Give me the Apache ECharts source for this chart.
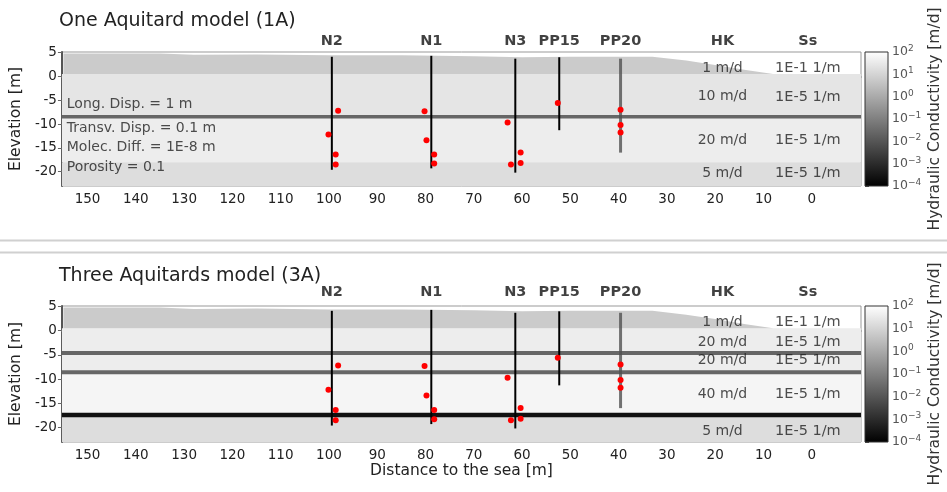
<!DOCTYPE html>
<html>
<head>
<meta charset="utf-8">
<script src="https://cdn.jsdelivr.net/npm/echarts@6/dist/echarts.min.js"></script>
<style>
  html, body { margin: 0; padding: 0; background: #fff; }
  #chart { width: 947px; height: 492px; }
</style>
</head>
<body>
<div id="chart"></div>
<script>
/* ---- data ---- */
var xTicks  = [150, 140, 130, 120, 110, 100, 90, 80, 70, 60, 50, 40, 30, 20, 10, 0];
var zTicks  = [5, 0, -5, -10, -15, -20];
var cbTicks = [2, 1, 0, -1, -2, -3, -4];          // log10(K) on the colour bar

var wellNames  = ["N2", "N1", "N3", "PP15", "PP20"];
var wellX      = [99.4, 78.8, 61.4, 52.3, 39.6];
var wellTop    = [4.1, 4.3, 3.7, 4.0, 3.7];
var wellBottom = [-19.6, -19.3, -20.2, -11.3, -16.0];

var obsX = [98.1, 100.1, 98.6, 98.6, 80.2, 79.8, 78.2, 78.2, 63.0, 60.3, 62.3, 60.3, 52.6, 39.6, 39.6, 39.6];
var obsZ = [-7.2, -12.2, -16.4, -18.5, -7.3, -13.4, -16.4, -18.3, -9.7, -16.0, -18.5, -18.2, -5.6, -7.0, -10.2, -11.8];

// ground surface of the top (1 m/d) unit
var surfX = [155, 135, 128, 115, 100, 85, 70, 60, 50, 40, 33, 26, 20, 14, 8];
var surfZ = [4.8, 4.8, 4.5, 4.6, 4.4, 4.4, 4.2, 4.0, 4.1, 4.1, 4.1, 3.3, 2.4, 1.4, 0.5];
var surfBase = 0.5;
var surfK = 1;

// model 1A
var top1A  = [0.5, -8.5, -18];
var bot1A  = [-8.5, -18, -23];
var k1A    = [10, 20, 5];
var aqZ1A  = [-8.5];
var hk1A   = ["1 m/d", "10 m/d", "20 m/d", "5 m/d"];
var ss1A   = ["1E-1 1/m", "1E-5 1/m", "1E-5 1/m", "1E-5 1/m"];
var lblZ1A = [1.65, -4.3, -13.4, -20.3];

// model 3A
var top3A  = [0.5, -4.6, -8.6, -17.4];
var bot3A  = [-4.6, -8.6, -17.4, -23];
var k3A    = [20, 20, 40, 5];
var aqZ3A  = [-4.6, -8.6, -17.4];
var hk3A   = ["1 m/d", "20 m/d", "20 m/d", "40 m/d", "5 m/d"];
var ss3A   = ["1E-1 1/m", "1E-5 1/m", "1E-5 1/m", "1E-5 1/m", "1E-5 1/m"];
var lblZ3A = [1.75, -2.4, -6.2, -13.1, -20.7];

var paramText = ["Long. Disp. = 1 m", "Transv. Disp. = 0.1 m", "Molec. Diff. = 1E-8 m", "Porosity = 0.1"];
var paramZ    = [-5.8, -10.85, -15.0, -19.0];

var hkColX = 18.5, ssColX = 0.8;

/* ---- styling ---- */
var X_MIN = -10.2, X_MAX = 155.3, Z_MIN = -23, Z_MAX = 5.1;
var FONT = "DejaVu Sans";
var aqColor1A = ["#666"];
var aqColor3A = ["#666", "#666", "#111"];

// grey colormap on log10(K) from 1e-4 to 1e2, washed out a bit like the figure
function kColor(k) {
  var f = (Math.log10(k) + 4) / 6;
  f = Math.max(0, Math.min(1, f));
  var v = Math.round(255 - (255 - f * 255) * 0.61);
  return "rgb(" + v + "," + v + "," + v + ")";
}

function rectBetween(a, b) {
  return { x: Math.min(a[0], b[0]), y: Math.min(a[1], b[1]),
           width: Math.abs(b[0] - a[0]), height: Math.abs(b[1] - a[1]) };
}

function textScatter(g, xs, zs, texts, label, z) {
  return {
    type: "scatter", xAxisIndex: g, yAxisIndex: g, silent: true, z: z || 20,
    symbolSize: 1, itemStyle: { color: "rgba(0,0,0,0)" },
    data: zs.map(function (zz, i) { return { value: [xs[i], zz], name: texts[i] }; }),
    label: Object.assign({ show: true, formatter: "{b}", fontFamily: FONT, color: "#222" }, label)
  };
}

function panelSeries(g, tops, bots, ks, aqZ, aqColors, hk, ss, lblZ, aqWidth) {
  var s = [];
  // layers
  s.push({
    type: "custom", xAxisIndex: g, yAxisIndex: g, silent: true, z: 1,
    data: tops.map(function (t, i) { return [t, bots[i], ks[i]]; }),
    renderItem: function (p, api) {
      var a = api.coord([X_MAX, api.value(0)]);
      var b = api.coord([X_MIN, api.value(1)]);
      return { type: "rect", shape: rectBetween(a, b), style: { fill: kColor(api.value(2)) } };
    }
  });
  // top unit above surfBase
  s.push({
    type: "custom", xAxisIndex: g, yAxisIndex: g, silent: true, z: 2,
    data: [[0, 0]],
    renderItem: function (p, api) {
      var pts = surfX.map(function (x, i) { return api.coord([x, surfZ[i]]); });
      pts.push(api.coord([surfX[surfX.length - 1], surfBase]));
      pts.push(api.coord([surfX[0], surfBase]));
      return { type: "polygon", shape: { points: pts }, style: { fill: kColor(surfK) } };
    }
  });
  // aquitards
  s.push({
    type: "custom", xAxisIndex: g, yAxisIndex: g, silent: true, z: 3,
    data: aqZ.map(function (z, i) { return [0, z, i]; }),
    renderItem: function (p, api) {
      var a = api.coord([X_MAX, api.value(1)]);
      var b = api.coord([X_MIN, api.value(1)]);
      var i = api.value(2);
      return { type: "line", shape: { x1: a[0], y1: a[1], x2: b[0], y2: b[1] },
               style: { stroke: aqColors[i], lineWidth: i === 2 ? 4.5 : aqWidth } };
    }
  });
  // wells
  s.push({
    type: "custom", xAxisIndex: g, yAxisIndex: g, silent: true, z: 4,
    data: wellX.map(function (x, i) { return [x, wellTop[i], wellBottom[i], i]; }),
    renderItem: function (p, api) {
      var a = api.coord([api.value(0), api.value(1)]);
      var b = api.coord([api.value(0), api.value(2)]);
      var pp20 = api.value(3) === 4;
      return { type: "line", shape: { x1: a[0], y1: a[1], x2: b[0], y2: b[1] },
               style: { stroke: pp20 ? "rgba(80,80,80,0.8)" : "#000", lineWidth: pp20 ? 3 : 2 } };
    }
  });
  // observation points
  s.push({
    type: "scatter", xAxisIndex: g, yAxisIndex: g, silent: true, z: 5,
    symbolSize: 6, itemStyle: { color: "#ff0000", opacity: 1 },
    data: obsX.map(function (x, i) { return [x, obsZ[i]]; })
  });
  // well names + column headers above the frame
  var headX = wellX.concat([hkColX, ssColX]);
  var headT = wellNames.concat(["HK", "Ss"]);
  s.push(textScatter(g, headX, headX.map(function () { return Z_MAX; }), headT,
    { position: "top", distance: g === 0 ? 3 : 6, fontSize: 14.5, fontWeight: "bold", color: "#111" }));
  // HK / Ss columns
  s.push(textScatter(g, lblZ.map(function () { return hkColX; }), lblZ, hk,
    { position: "inside", fontSize: 14 }));
  s.push(textScatter(g, lblZ.map(function () { return ssColX; }), lblZ, ss,
    { position: "inside", fontSize: 14.5 }));
  return s;
}

function colorbarSeries(g) {
  return {
    type: "custom", xAxisIndex: g, yAxisIndex: g, silent: true,
    data: [[0, 0]],
    renderItem: function (p, api) {
      var a = api.coord([0, cbTicks[0]]);
      var b = api.coord([1, cbTicks[cbTicks.length - 1]]);
      return { type: "rect", shape: rectBetween(a, b),
               style: { stroke: "#333", lineWidth: 1,
                        fill: new echarts.graphic.LinearGradient(0, 0, 0, 1,
                          [{ offset: 0, color: "#fff" }, { offset: 1, color: "#000" }]) } };
    }
  };
}

function mainX(g, withName) {
  return {
    type: "value", gridIndex: g, min: X_MIN, max: X_MAX, inverse: true,
    splitLine: { show: false },
    axisLine: { lineStyle: { color: "#888", width: 1.5 } },
    axisTick: { customValues: xTicks, length: 4, lineStyle: { color: "#888" } },
    axisLabel: { customValues: xTicks, fontSize: 13.5, fontFamily: FONT, color: "#222", margin: 6 },
    name: withName ? "Distance to the sea [m]" : "", nameLocation: "middle", nameGap: 21,
    nameTextStyle: { fontSize: 15.5, fontFamily: FONT, color: "#222" }
  };
}
function mainY(g) {
  return {
    type: "value", gridIndex: g, min: Z_MIN, max: Z_MAX,
    splitLine: { show: false },
    axisLine: { onZero: false, lineStyle: { color: "#555", width: 2 } },
    axisTick: { customValues: zTicks, length: 4, lineStyle: { color: "#666" } },
    axisLabel: { customValues: zTicks, fontSize: 13.5, fontFamily: FONT, color: "#222", margin: 5 },
    name: "Elevation [m]", nameLocation: "middle", nameGap: 35, nameRotate: 90,
    nameTextStyle: { fontSize: 15.5, fontFamily: FONT, color: "#222" }
  };
}
function cbX(g) { return { type: "value", gridIndex: g, min: 0, max: 1, show: false }; }
function cbY(g) {
  return {
    type: "value", gridIndex: g, min: -4, max: 2, position: "right",
    splitLine: { show: false }, axisLine: { show: false },
    axisTick: { customValues: cbTicks, length: 4, lineStyle: { color: "#555" } },
    axisLabel: {
      customValues: cbTicks, margin: 4, color: "#555", fontFamily: FONT,
      formatter: function (v) { return "{b|10}{s|" + (v < 0 ? "\u2212" + (-v) : v) + "}"; },
      rich: { b: { fontSize: 12.5, fontFamily: FONT, color: "#555" },
              s: { fontSize: 9, fontFamily: FONT, color: "#555", padding: [0, 0, 7, 0] } }
    },
    name: "Hydraulic Conductivity [m/d]", nameLocation: "middle", nameGap: 39, nameRotate: 90,
    nameTextStyle: { fontSize: 15.5, fontFamily: FONT, color: "#333" }
  };
}

var chart = echarts.init(document.getElementById("chart"), null, { renderer: "canvas" });

var series = []
  .concat(panelSeries(0, top1A, bot1A, k1A, aqZ1A, aqColor1A, hk1A, ss1A, lblZ1A, 3.5))
  .concat(panelSeries(1, top3A, bot3A, k3A, aqZ3A, aqColor3A, hk3A, ss3A, lblZ3A, 4));
series.push(textScatter(0, paramZ.map(function () { return 154.4; }), paramZ, paramText,
  { position: "right", distance: 0, fontSize: 14, color: "#222" }, 21));
series.push(colorbarSeries(2));
series.push(colorbarSeries(3));

chart.setOption({
  animation: false,
  backgroundColor: "#fff",
  title: [
    { text: "One Aquitard model (1A)", left: 54, top: 7,
      textStyle: { fontSize: 19, fontWeight: "normal", fontFamily: FONT, color: "#222" } },
    { text: "Three Aquitards model (3A)", left: 54, top: 262,
      textStyle: { fontSize: 19, fontWeight: "normal", fontFamily: FONT, color: "#222" } }
  ],
  grid: [
    { left: 61, right: 86, top: 52, height: 134, show: true, borderColor: "#999", borderWidth: 1 },
    { left: 61, right: 86, top: 306, height: 136, show: true, borderColor: "#999", borderWidth: 1 },
    { left: 865, width: 23, top: 52, height: 134 },
    { left: 865, width: 23, top: 306, height: 136 }
  ],
  xAxis: [mainX(0, false), mainX(1, true), cbX(2), cbX(3)],
  yAxis: [mainY(0), mainY(1), cbY(2), cbY(3)],
  graphic: [
    { type: "line", shape: { x1: 0, y1: 240.5, x2: 947, y2: 240.5 }, style: { stroke: "#d0d0d0", lineWidth: 2 } },
    { type: "line", shape: { x1: 0, y1: 252.5, x2: 947, y2: 252.5 }, style: { stroke: "#d0d0d0", lineWidth: 2 } }
  ],
  series: series
});
</script>
</body>
</html>
